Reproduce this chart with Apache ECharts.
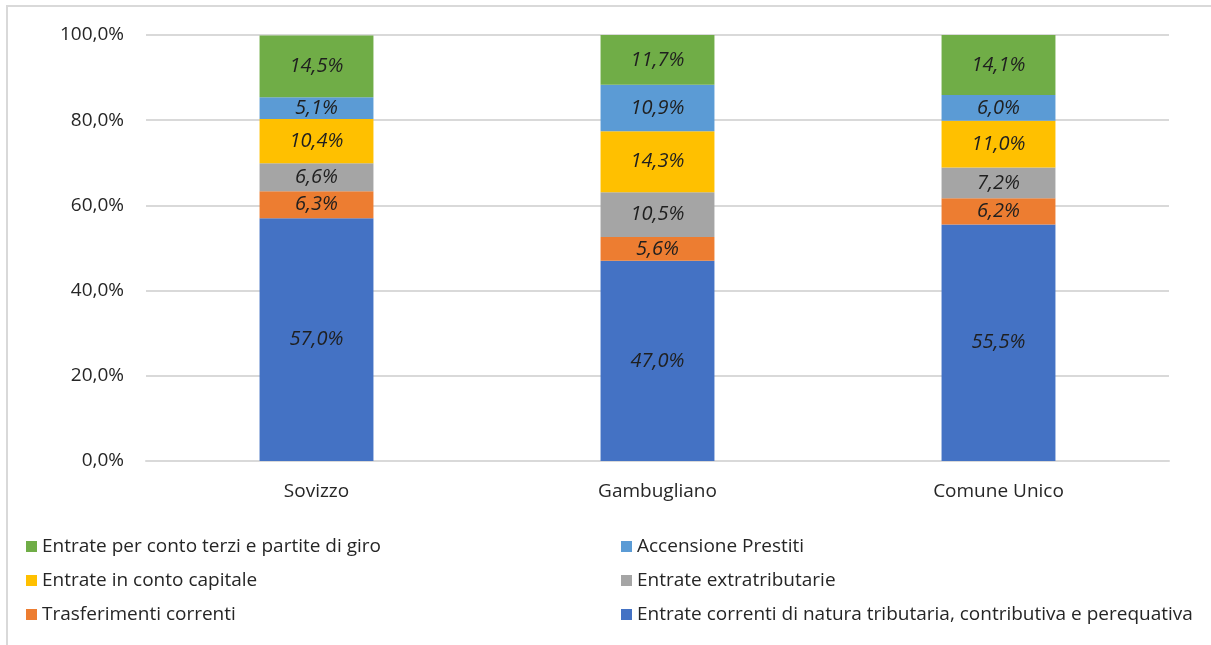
<!DOCTYPE html>
<html>
<head>
<meta charset="utf-8">
<script src="https://cdn.jsdelivr.net/npm/echarts@6/dist/echarts.min.js"></script>
<style>
  html, body { margin: 0; padding: 0; background: #fff; }
  #chart { width: 1211px; height: 645px; }
</style>
</head>
<body>
<div id="chart"></div>
<script>
// categorie e valori (%)
var categories = ["Sovizzo", "Gambugliano", "Comune Unico"];
var seriesNames = [
  "Entrate correnti di natura tributaria, contributiva e perequativa",
  "Trasferimenti correnti",
  "Entrate extratributarie",
  "Entrate in conto capitale",
  "Accensione Prestiti",
  "Entrate per conto terzi e partite di giro"
];
var correnti = [57.0, 47.0, 55.5];
var trasferimenti = [6.3, 5.6, 6.2];
var extratributarie = [6.6, 10.5, 7.2];
var capitale = [10.4, 14.3, 11.0];
var prestiti = [5.1, 10.9, 6.0];
var contoTerzi = [14.5, 11.7, 14.1];
var yTicks = [0, 20, 40, 60, 80, 100];

var colors = ["#4472C4", "#ED7D31", "#A5A5A5", "#FFC000", "#5B9BD5", "#70AD47"];
var values = [correnti, trasferimenti, extratributarie, capitale, prestiti, contoTerzi];
var font = "Open Sans";

function pct(v) { return v.toFixed(1).replace(".", ",") + "%"; }

var series = seriesNames.map(function (name, i) {
  return {
    name: name,
    type: "bar",
    stack: "tot",
    barWidth: "33.4%",
    itemStyle: { color: colors[i] },
    data: values[i],
    label: {
      show: true,
      position: "inside",
      color: "#1f1f1f",
      fontStyle: "italic",
      fontFamily: font,
      fontSize: 20,
      formatter: function (p) { return pct(p.value); }
    }
  };
});

var legendText = { color: "#262626", fontFamily: font, fontSize: 19 };

var chart = echarts.init(document.getElementById("chart"));
chart.setOption({
  animation: false,
  grid: { left: 146, right: 42, top: 35, bottom: 184 },
  graphic: [{
    type: "rect",
    shape: { x: 7, y: 6, width: 1300, height: 700 },
    style: { fill: "none", stroke: "#d9d9d9", lineWidth: 2 },
    silent: true
  }],
  legend: [
    {
      orient: "vertical", left: 21, top: 532, itemGap: 15,
      itemWidth: 11, itemHeight: 11, icon: "rect",
      textStyle: legendText,
      data: [seriesNames[5], seriesNames[3], seriesNames[1]]
    },
    {
      orient: "vertical", left: 616, top: 532, itemGap: 15,
      itemWidth: 11, itemHeight: 11, icon: "rect",
      textStyle: legendText,
      data: [seriesNames[4], seriesNames[2], seriesNames[0]]
    }
  ],
  xAxis: {
    type: "category",
    data: categories,
    axisLine: { lineStyle: { color: "#d9d9d9", width: 2 } },
    axisTick: { show: false },
    axisLabel: { color: "#262626", fontFamily: font, fontSize: 19, margin: 21 }
  },
  yAxis: {
    type: "value",
    min: yTicks[0],
    max: yTicks[yTicks.length - 1],
    interval: 20,
    axisLine: { show: false },
    axisTick: { show: false },
    splitLine: { lineStyle: { color: "#d9d9d9", width: 2 } },
    axisLabel: {
      color: "#262626", fontFamily: font, fontSize: 19, margin: 22,
      formatter: function (v) { return pct(v); }
    }
  },
  series: series
});
</script>
</body>
</html>
